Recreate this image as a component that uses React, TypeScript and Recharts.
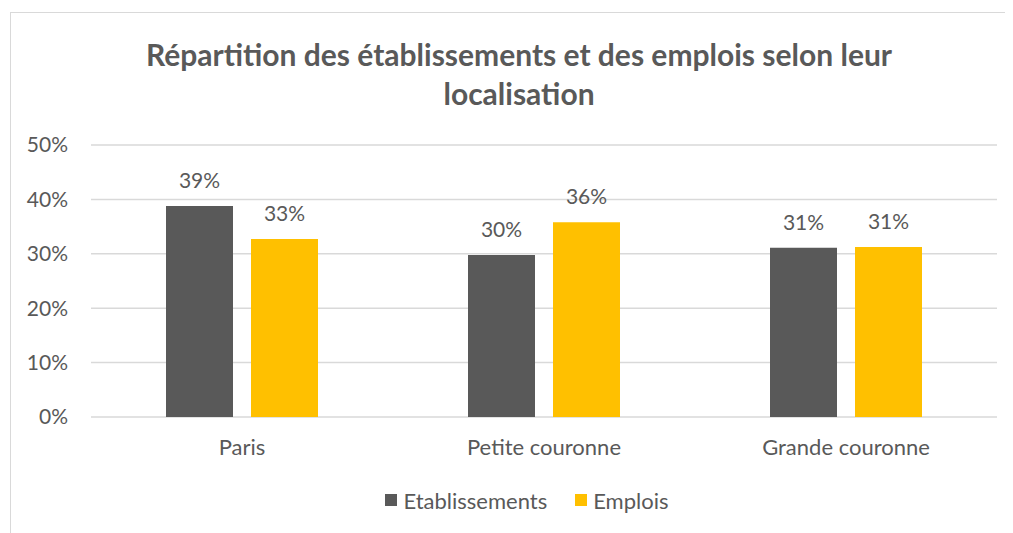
import React from "react";
import { BarChart, Bar, XAxis, YAxis, CartesianGrid, Legend, LabelList } from "recharts";

const categories = ["Paris", "Petite couronne", "Grande couronne"];
const etablissements = [0.388, 0.298, 0.311];
const emplois = [0.327, 0.358, 0.3125];
const yTicks = [0, 0.1, 0.2, 0.3, 0.4, 0.5];
const seriesNames = ["Etablissements", "Emplois"];
const seriesColors = ["#595959", "#FFC000"];

const data = categories.map((c, i) => ({
  name: c,
  etab: etablissements[i],
  empl: emplois[i],
}));

const FONT = "Lato, 'Open Sans', sans-serif";
const TEXT = "#595959";
const pct = (v: number) => `${Math.round(v * 100)}%`;

const LegendContent = () => (
  <div style={{ display: "flex", justifyContent: "center", alignItems: "center", fontFamily: FONT, fontSize: 22, color: TEXT, height: 28, paddingLeft: 26 }}>
    {seriesNames.map((n, i) => (
      <div key={n} style={{ display: "flex", alignItems: "center", marginRight: i === 0 ? 28 : 0 }}>
        <span style={{ display: "inline-block", width: 12, height: 12, background: seriesColors[i], marginRight: 6 }} />
        <span>{n}</span>
      </div>
    ))}
  </div>
);

export default function App() {
  return (
    <div style={{ position: "relative", width: 1005, height: 525, fontFamily: FONT }}>
      <div
        style={{
          position: "absolute",
          left: 2,
          top: 4,
          width: 1020,
          height: 540,
          border: "1px solid #d9d9d9",
          boxSizing: "border-box",
        }}
      />
      <div
        style={{
          position: "absolute",
          left: 0,
          top: 27,
          width: 1022,
          textAlign: "center",
          fontWeight: 700,
          fontSize: 30,
          lineHeight: "39px",
          color: TEXT,
        }}
      >
        Répartition des établissements et des emplois selon leur
        <br />
        localisation
      </div>
      <div style={{ position: "absolute", left: 0, top: 0 }}>
        <BarChart
          width={1005}
          height={525}
          data={data}
          margin={{ top: 137, right: 16, bottom: 38, left: 23 }}
          barGap={18}
        >
          <CartesianGrid vertical={false} stroke="#d9d9d9" strokeWidth={1.5} />
          <XAxis
            dataKey="name"
            axisLine={false}
            tickLine={false}
            height={50}
            tickMargin={16}
            tick={{ fill: TEXT, fontSize: 22, fontFamily: FONT }}
          />
          <YAxis
            domain={[0, 0.5]}
            ticks={yTicks}
            tickFormatter={pct}
            axisLine={false}
            tickLine={false}
            width={60}
            tickSize={0}
            tickMargin={23}
            tick={{ fill: TEXT, fontSize: 21, fontFamily: FONT }}
          />
          <Legend
            verticalAlign="bottom"
            height={28}
            content={<LegendContent />}
            wrapperStyle={{ bottom: 19 }}
          />
          <Bar dataKey="etab" name={seriesNames[0]} fill={seriesColors[0]} barSize={67} isAnimationActive={false}>
            <LabelList dataKey="etab" position="top" offset={18} formatter={(v: number) => pct(v)} style={{ fill: TEXT, fontSize: 21, fontFamily: FONT }} />
          </Bar>
          <Bar dataKey="empl" name={seriesNames[1]} fill={seriesColors[1]} barSize={67} isAnimationActive={false}>
            <LabelList dataKey="empl" position="top" offset={18} formatter={(v: number) => pct(v)} style={{ fill: TEXT, fontSize: 21, fontFamily: FONT }} />
          </Bar>
        </BarChart>
      </div>
    </div>
  );
}
